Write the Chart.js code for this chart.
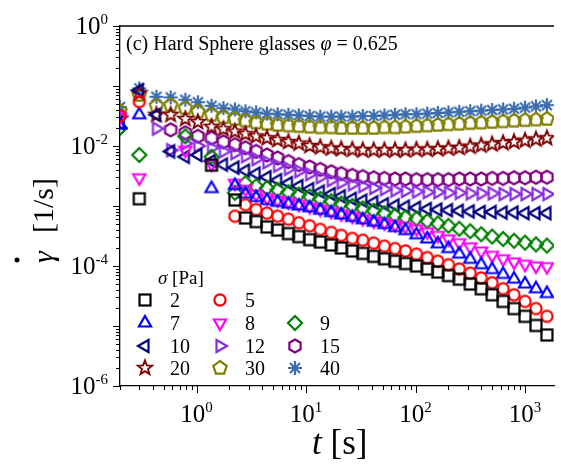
<!DOCTYPE html>
<html>
<head>
<meta charset="utf-8">
<script src="https://cdn.jsdelivr.net/npm/chart.js@4.4.1/dist/chart.umd.min.js"></script>
<style>
  html, body { margin: 0; padding: 0; background: #fff; }
  #wrap { width: 561px; height: 465px; }
</style>
</head>
<body>
<div id="wrap"><canvas id="creep" width="561" height="465"></canvas></div>
<script>
// time after applying the stress [s]
const times = [0.2, 0.3, 0.43, 0.58, 0.79, 1.03, 1.37, 1.76, 2.24, 2.8, 3.5, 4.4, 5.5, 6.9, 8.6,
  10.8, 13.5, 17, 21, 26.5, 33, 41.5, 52, 65, 81, 102, 128, 160, 200, 251, 316, 398, 501,
  631, 794, 1000, 1259, 1585];

// applied stress sigma [Pa]
const stressLabels = ['2', '5', '7', '8', '9', '10', '12', '15', '20', '30', '40'];

// shear rate [1/s], one value per time point (null = no point)
const rate2 = [null, 1.32e-3, null, null, null, null, 4.79e-3, null, 1.26e-3, 6.31e-4, 5.50e-4, 4.47e-4, 3.98e-4, 3.47e-4, 3.09e-4, 2.75e-4, 2.51e-4, 2.24e-4, 2.00e-4, 1.78e-4, 1.62e-4, 1.45e-4, 1.32e-4, 1.20e-4, 1.10e-4, 1.00e-4, 8.91e-5, 7.94e-5, 6.92e-5, 6.03e-5, 5.01e-5, 4.17e-5, 3.31e-5, 2.57e-5, 1.95e-5, 1.45e-5, 1.02e-5, 7.08e-6];
const rate5 = [3.16e-2, 5.50e-2, null, null, null, null, null, null, 6.76e-4, 1.05e-3, 8.71e-4, 7.59e-4, 6.76e-4, 6.03e-4, 5.25e-4, 4.68e-4, 4.07e-4, 3.63e-4, 3.24e-4, 2.88e-4, 2.69e-4, 2.40e-4, 2.14e-4, 1.95e-4, 1.78e-4, 1.58e-4, 1.38e-4, 1.20e-4, 1.05e-4, 8.91e-5, 7.59e-5, 6.31e-5, 5.25e-5, 4.17e-5, 3.31e-5, 2.57e-5, 1.95e-5, 1.45e-5];
const rate7 = [2.24e-2, 3.31e-2, null, null, null, null, 1.95e-3, null, 2.19e-3, 1.58e-3, 1.38e-3, 1.23e-3, 1.15e-3, 1.07e-3, 1.00e-3, 9.33e-4, 8.51e-4, 7.76e-4, 7.08e-4, 6.46e-4, 5.89e-4, 5.37e-4, 4.90e-4, 4.37e-4, 3.89e-4, 3.31e-4, 2.82e-4, 2.34e-4, 1.95e-4, 1.58e-4, 1.29e-4, 1.05e-4, 8.71e-5, 7.24e-5, 6.03e-5, 5.01e-5, 4.17e-5, 3.47e-5];
const rate8 = [3.02e-2, 2.95e-3, null, null, 8.51e-3, null, 5.01e-3, null, 2.40e-3, 1.91e-3, 1.58e-3, 1.38e-3, 1.26e-3, 1.17e-3, 1.07e-3, 9.77e-4, 8.91e-4, 8.13e-4, 7.41e-4, 6.76e-4, 6.17e-4, 5.62e-4, 5.25e-4, 4.90e-4, 4.57e-4, 4.17e-4, 3.72e-4, 3.24e-4, 2.82e-4, 2.45e-4, 2.09e-4, 1.78e-4, 1.51e-4, 1.32e-4, 1.17e-4, 1.07e-4, 1.00e-4, 9.77e-5];
const rate9 = [2.00e-2, 7.08e-3, null, null, 1.45e-2, null, 6.61e-3, null, 1.66e-3, 2.40e-3, 2.14e-3, 2.00e-3, 1.86e-3, 1.70e-3, 1.55e-3, 1.45e-3, 1.32e-3, 1.20e-3, 1.10e-3, 1.00e-3, 9.12e-4, 8.32e-4, 7.59e-4, 6.92e-4, 6.46e-4, 6.17e-4, 5.62e-4, 5.13e-4, 4.68e-4, 4.17e-4, 3.80e-4, 3.39e-4, 3.09e-4, 2.82e-4, 2.63e-4, 2.45e-4, 2.29e-4, 2.19e-4];
const rate10 = [2.40e-2, 8.51e-2, 3.31e-2, 8.13e-3, 6.61e-3, 7.08e-3, 5.62e-3, 4.90e-3, 4.37e-3, 3.89e-3, 3.47e-3, 3.02e-3, 2.69e-3, 2.40e-3, 2.14e-3, 1.91e-3, 1.74e-3, 1.58e-3, 1.45e-3, 1.32e-3, 1.23e-3, 1.15e-3, 1.07e-3, 1.02e-3, 9.77e-4, 9.33e-4, 8.91e-4, 8.71e-4, 8.51e-4, 8.32e-4, 8.13e-4, 7.94e-4, 7.94e-4, 7.76e-4, 7.76e-4, 7.59e-4, 7.59e-4, 7.59e-4];
const rate12 = [3.09e-2, null, 1.95e-2, 8.51e-3, 1.10e-2, 1.00e-2, 9.33e-3, 8.13e-3, 7.59e-3, 6.76e-3, 6.03e-3, 5.37e-3, 4.68e-3, 4.17e-3, 3.80e-3, 3.39e-3, 3.02e-3, 2.69e-3, 2.45e-3, 2.29e-3, 2.14e-3, 2.00e-3, 1.91e-3, 1.82e-3, 1.78e-3, 1.74e-3, 1.70e-3, 1.70e-3, 1.66e-3, 1.66e-3, 1.62e-3, 1.62e-3, 1.62e-3, 1.58e-3, 1.58e-3, 1.58e-3, 1.58e-3, 1.58e-3];
const rate15 = [null, null, null, 1.86e-2, 1.66e-2, 1.45e-2, 1.35e-2, 1.17e-2, 1.05e-2, 9.33e-3, 8.13e-3, 7.08e-3, 6.31e-3, 5.50e-3, 4.90e-3, 4.47e-3, 4.07e-3, 3.72e-3, 3.47e-3, 3.24e-3, 3.09e-3, 2.95e-3, 2.88e-3, 2.82e-3, 2.82e-3, 2.75e-3, 2.75e-3, 2.75e-3, 2.75e-3, 2.82e-3, 2.82e-3, 2.82e-3, 2.88e-3, 2.88e-3, 2.95e-3, 2.95e-3, 3.02e-3, 3.02e-3];
const rate20 = [2.82e-2, 7.59e-2, 3.31e-2, 3.31e-2, 2.82e-2, 2.51e-2, 2.09e-2, 1.91e-2, 1.74e-2, 1.58e-2, 1.45e-2, 1.35e-2, 1.26e-2, 1.17e-2, 1.10e-2, 1.00e-2, 9.55e-3, 9.12e-3, 8.91e-3, 8.71e-3, 8.51e-3, 8.51e-3, 8.51e-3, 8.51e-3, 8.51e-3, 8.71e-3, 8.71e-3, 8.91e-3, 9.12e-3, 9.33e-3, 9.77e-3, 1.02e-2, 1.07e-2, 1.12e-2, 1.17e-2, 1.23e-2, 1.29e-2, 1.35e-2];
const rate30 = [3.80e-2, 7.08e-2, 4.68e-2, 4.79e-2, 4.27e-2, 3.72e-2, 3.31e-2, 3.02e-2, 2.82e-2, 2.63e-2, 2.45e-2, 2.34e-2, 2.24e-2, 2.19e-2, 2.14e-2, 2.09e-2, 2.04e-2, 2.04e-2, 2.00e-2, 2.00e-2, 2.00e-2, 2.00e-2, 2.04e-2, 2.04e-2, 2.09e-2, 2.14e-2, 2.19e-2, 2.24e-2, 2.29e-2, 2.34e-2, 2.40e-2, 2.45e-2, 2.51e-2, 2.57e-2, 2.63e-2, 2.69e-2, 2.75e-2, 2.82e-2];
const rate40 = [4.47e-2, 9.12e-2, 6.61e-2, 6.46e-2, 5.89e-2, 5.37e-2, 4.68e-2, 4.27e-2, 4.07e-2, 3.80e-2, 3.63e-2, 3.47e-2, 3.39e-2, 3.31e-2, 3.24e-2, 3.16e-2, 3.09e-2, 3.09e-2, 3.09e-2, 3.09e-2, 3.16e-2, 3.16e-2, 3.24e-2, 3.31e-2, 3.39e-2, 3.39e-2, 3.47e-2, 3.55e-2, 3.63e-2, 3.72e-2, 3.80e-2, 3.89e-2, 3.98e-2, 4.07e-2, 4.17e-2, 4.37e-2, 4.57e-2, 4.79e-2];

// axis tick labels (powers of ten)
const xTickExponents = ['0', '1', '2', '3'];
const yTickExponents = ['0', '-2', '-4', '-6'];

const allRates = [rate2, rate5, rate7, rate8, rate9, rate10, rate12, rate15, rate20, rate30, rate40];
const colors = ['#000000', '#ff0000', '#0000ff', '#ff00ff', '#008000', '#00007f', '#8a2be2', '#800080', '#7f0000', '#808000', '#3b6db0'];
const shapes = ['square', 'circle', 'triUp', 'triDown', 'diamond', 'triLeft', 'triRight', 'hexagon', 'star', 'pentagon', 'asterisk'];

const SERIF = "'Liberation Serif', 'Times New Roman', serif";

// 画标记符号（空心）
function makeMarker(shape, color) {
    const c = document.createElement('canvas');
    c.width = 22; c.height = 22;
    const g = c.getContext('2d');
    g.strokeStyle = color;
    g.lineWidth = 2.2;
    g.lineJoin = 'miter';
    const cx = 11, cy = 11;
    function poly(n, r, start) {
        g.beginPath();
        for (let k = 0; k < n; k++) {
            const a = (start + k * 360 / n) * Math.PI / 180;
            const px = cx + r * Math.cos(a), py = cy + r * Math.sin(a);
            if (k === 0) g.moveTo(px, py); else g.lineTo(px, py);
        }
        g.closePath();
        g.stroke();
    }
    if (shape === 'square') {
        g.strokeRect(cx - 5.5, cy - 5.5, 11, 11);
    } else if (shape === 'circle') {
        g.beginPath(); g.arc(cx, cy, 5.6, 0, Math.PI * 2); g.stroke();
    } else if (shape === 'triUp') {
        poly(3, 7, -90);
    } else if (shape === 'triDown') {
        poly(3, 7, 90);
    } else if (shape === 'triLeft') {
        poly(3, 7, 180);
    } else if (shape === 'triRight') {
        poly(3, 7, 0);
    } else if (shape === 'diamond') {
        poly(4, 7, -90);
    } else if (shape === 'hexagon') {
        poly(6, 6.5, -90);
    } else if (shape === 'pentagon') {
        poly(5, 7, -90);
    } else if (shape === 'star') {
        g.lineWidth = 1.9;
        g.beginPath();
        for (let k = 0; k < 10; k++) {
            const r = k % 2 === 0 ? 7.5 : 3.2;
            const a = (-90 + k * 36) * Math.PI / 180;
            const px = cx + r * Math.cos(a), py = cy + r * Math.sin(a);
            if (k === 0) g.moveTo(px, py); else g.lineTo(px, py);
        }
        g.closePath();
        g.stroke();
    } else if (shape === 'asterisk') {
        g.beginPath();
        for (let k = 0; k < 4; k++) {
            const a = k * 45 * Math.PI / 180;
            g.moveTo(cx - 7 * Math.cos(a), cy - 7 * Math.sin(a));
            g.lineTo(cx + 7 * Math.cos(a), cy + 7 * Math.sin(a));
        }
        g.stroke();
    }
    return c;
}

const markers = shapes.map((s, i) => makeMarker(s, colors[i]));

const datasets = allRates.map((vals, i) => ({
    label: stressLabels[i],
    data: times.map((t, k) => ({ x: t, y: vals[k] })).filter(p => p.y !== null),
    showLine: false,
    pointStyle: markers[i],
    pointRadius: 6,
    pointHoverRadius: 6,
    borderColor: colors[i],
    backgroundColor: colors[i]
}));

// 按段绘制文字（正体/斜体混排）
function drawRuns(ctx, x, y, runs) {
    let cx = x;
    runs.forEach(r => {
        ctx.font = r.font;
        ctx.fillText(r.text, cx, y);
        cx += ctx.measureText(r.text).width;
    });
    return cx;
}

const decorPlugin = {
    id: 'decor',
    afterDraw(chart) {
        const ctx = chart.ctx;
        const area = chart.chartArea;
        const xs = chart.scales.x, ys = chart.scales.y;
        ctx.save();
        ctx.strokeStyle = '#000';
        ctx.fillStyle = '#000';
        ctx.lineWidth = 1.3;

        // top frame
        ctx.beginPath();
        ctx.moveTo(area.left, area.top);
        ctx.lineTo(area.right, area.top);
        ctx.stroke();

        // tick marks, pointing outward
        ctx.lineWidth = 1;
        ctx.beginPath();
        for (let e = -1; e <= 3; e++) {
            for (let m = 1; m <= 9; m++) {
                const v = m * Math.pow(10, e);
                if (v < xs.min * 0.999 || v > xs.max) continue;
                const px = Math.round(xs.getPixelForValue(v)) + 0.5;
                const len = m === 1 ? 7 : 4;
                ctx.moveTo(px, area.bottom);
                ctx.lineTo(px, area.bottom + len);
            }
        }
        for (let e = -6; e <= 0; e++) {
            for (let m = 1; m <= 9; m++) {
                const v = m * Math.pow(10, e);
                if (v < ys.min * 0.999 || v > ys.max * 1.001) continue;
                const py = Math.round(ys.getPixelForValue(v)) + 0.5;
                const len = m === 1 ? 7 : 4;
                ctx.moveTo(area.left, py);
                ctx.lineTo(area.left - len, py);
            }
        }
        ctx.stroke();

        // tick labels 10^n
        const baseFont = '25px ' + SERIF;
        const expFont = '15px ' + SERIF;
        ctx.textBaseline = 'alphabetic';
        ctx.textAlign = 'left';
        yTickExponents.forEach(ex => {
            const py = ys.getPixelForValue(Math.pow(10, Number(ex)));
            ctx.font = expFont;
            const ew = ctx.measureText(ex).width;
            ctx.font = baseFont;
            const bw = ctx.measureText('10').width;
            const right = area.left - 12;
            ctx.fillText('10', right - ew - bw, py + 8);
            ctx.font = expFont;
            ctx.fillText(ex, right - ew, py - 2);
        });
        xTickExponents.forEach(ex => {
            const px = xs.getPixelForValue(Math.pow(10, Number(ex)));
            ctx.font = expFont;
            const ew = ctx.measureText(ex).width;
            ctx.font = baseFont;
            const bw = ctx.measureText('10').width;
            const left = px - (bw + ew) / 2;
            ctx.fillText('10', left, area.bottom + 36);
            ctx.font = expFont;
            ctx.fillText(ex, left + bw, area.bottom + 26);
        });

        // x axis title
        drawRuns(ctx, 312, 454, [
            { text: 't', font: 'italic 35px ' + SERIF },
            { text: ' [s]', font: '35px ' + SERIF }
        ]);

        // y axis title (rotated)
        ctx.save();
        ctx.translate(53, 263);
        ctx.rotate(-Math.PI / 2);
        ctx.font = 'italic 30px ' + SERIF;
        ctx.fillText('γ', 0, 0);
        ctx.font = '30px ' + SERIF;
        ctx.fillText('[1/s]', 30, 0);
        ctx.beginPath();
        ctx.arc(3, -36, 2.5, 0, Math.PI * 2);
        ctx.fill();
        ctx.restore();

        // panel annotation
        drawRuns(ctx, 126, 50, [
            { text: '(c) Hard Sphere glasses ', font: '20px ' + SERIF },
            { text: 'φ', font: 'italic 20px ' + SERIF },
            { text: ' = 0.625', font: '20px ' + SERIF }
        ]);

        // legend: title + 3 columns
        drawRuns(ctx, 158, 284, [
            { text: 'σ', font: 'italic 19px ' + SERIF },
            { text: ' [Pa]', font: '19px ' + SERIF }
        ]);
        const rowY = [300, 323, 346, 368];
        const markX = [145, 220, 295];
        const textX = [170, 245, 320];
        ctx.font = '20px ' + SERIF;
        stressLabels.forEach((lab, i) => {
            const row = i < 2 ? 0 : 1 + Math.floor((i - 2) / 3);
            const col = i < 2 ? i : (i - 2) % 3;
            ctx.drawImage(markers[i], markX[col] - 11, rowY[row] - 11);
            ctx.fillText(lab, textX[col], rowY[row] + 7);
        });
        ctx.restore();
    }
};

const ctx = document.getElementById('creep').getContext('2d');
new Chart(ctx, {
    type: 'scatter',
    data: { datasets: datasets },
    options: {
        responsive: false,
        maintainAspectRatio: false,
        animation: false,
        devicePixelRatio: 1,
        layout: { padding: { top: 26, right: 0, bottom: 0, left: 0 } },
        plugins: {
            legend: { display: false },
            tooltip: { enabled: false }
        },
        scales: {
            x: {
                type: 'logarithmic',
                min: 0.2,
                max: 1840,
                grid: { display: false, drawTicks: false },
                border: { display: true, color: '#000', width: 1.3 },
                ticks: { display: false },
                afterFit: function(scale) { scale.height = 79; }
            },
            y: {
                type: 'logarithmic',
                min: 1e-6,
                max: 1,
                grid: { display: false, drawTicks: false },
                border: { display: true, color: '#000', width: 1.3 },
                ticks: { display: false },
                afterFit: function(scale) { scale.width = 120; }
            }
        }
    },
    plugins: [decorPlugin]
});
</script>
</body>
</html>
